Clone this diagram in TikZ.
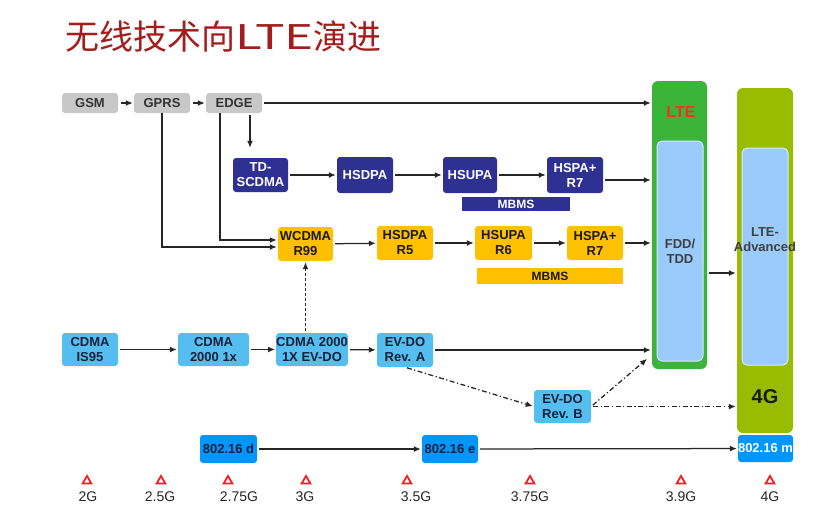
\documentclass[tikz,border=0pt]{standalone}
\usepackage{fontspec}
\setmainfont{Liberation Sans}
\newfontfamily\cjkfont{Noto Sans CJK SC}
\usetikzlibrary{positioning, arrows.meta, shapes.geometric}

\definecolor{titlered}{HTML}{A51C1C}
\definecolor{gsmgray}{HTML}{C8C8C8}
\definecolor{tdblue}{HTML}{2E3192}
\definecolor{wcyellow}{HTML}{FFC000}
\definecolor{cdblue}{HTML}{55BEF0}
\definecolor{cdtext}{HTML}{142038}
\definecolor{wmblue}{HTML}{0096FF}
\definecolor{ltegreen}{HTML}{3CB43C}
\definecolor{lteblue}{HTML}{9BCBFA}
\definecolor{olive}{HTML}{99BB00}
\definecolor{ltered}{HTML}{E8381C}
\definecolor{genred}{HTML}{F02020}

\tikzset{
  box/.style={rounded corners=3pt, inner sep=0pt, align=center,
    font=\bfseries\fontsize{13}{15}\selectfont},
  gsmbox/.style={box, fill=gsmgray, text=black!80, minimum width=56pt, minimum height=20pt},
  tdbox/.style={box, fill=tdblue, text=white, minimum width=56pt, minimum height=36pt},
  wcbox/.style={box, fill=wcyellow, text=black!90, minimum width=56pt, minimum height=34pt},
  cdbox/.style={box, fill=cdblue, text=cdtext, minimum width=56pt, minimum height=33pt},
  wmbox/.style={box, fill=wmblue, text=cdtext, minimum width=56pt, minimum height=28pt},
  bar/.style={inner sep=0pt, font=\bfseries\fontsize{12}{12}\selectfont},
  column/.style={inner sep=0pt, rounded corners=6pt},
  inner/.style={inner sep=0pt, rounded corners=5pt, fill=lteblue, draw=white!60!lteblue, line width=1pt},
  conn/.style={-{Latex[length=7pt,width=6pt]}, line width=1.25pt, black!85,
    shorten >=1pt, shorten <=2pt},
  dashconn/.style={conn, dash pattern=on 5pt off 2.5pt on 1.2pt off 2.5pt},
  gen/.style={regular polygon, regular polygon sides=3, draw=genred, fill=white,
    line width=1.8pt, minimum size=10pt, inner sep=0pt},
  genlabel/.style={inner sep=0pt, font=\fontsize{14}{14}\selectfont, text=black!85},
}

\begin{document}
\begin{tikzpicture}[x=1pt, y=-1pt]
  \fill[white] (0,0) rectangle (831,531);

  % ── title ──
  \node[anchor=west, inner sep=0pt, text=titlered,
    font=\cjkfont\fontsize{34}{34}\selectfont] (title) at (65,37)
    {无线技术向\scalebox{1.45}[1]{LTE}演进};

  % ── LTE / LTE-Advanced columns ──
  \node[column, fill=ltegreen, minimum width=55pt, minimum height=288pt] (lte) at (679.5,225) {};
  \node[inner, minimum width=46pt, minimum height=220pt, align=center, text=black!75,
    font=\bfseries\fontsize{13}{15}\selectfont] (fdd) at (680,251) {FDD/\\TDD};
  \node[inner sep=0pt, text=ltered, font=\bfseries\fontsize{16}{16}\selectfont] (ltetext) at (681,112) {LTE};

  \node[column, fill=olive, minimum width=56pt, minimum height=345pt] (ltea) at (765,260.5) {};
  \node[inner, minimum width=46pt, minimum height=217pt] (adv) at (765,256.5) {};
  \node[inner sep=0pt, align=center, text=black!75,
    font=\bfseries\fontsize{13}{15}\selectfont] (advtext) at (765,240) {LTE-\\Advanced};
  \node[inner sep=0pt, text=black!90, font=\bfseries\fontsize{20}{20}\selectfont] (fourg) at (765,397) {4G};

  % ── GSM branch ──
  \node[gsmbox] (gsm)  at (90,103)  {GSM};
  \node[gsmbox] (gprs) at (162,103) {GPRS};
  \node[gsmbox] (edge) at (234,103) {EDGE};

  % ── TD-SCDMA branch ──
  \node[tdbox, minimum width=55pt, minimum height=34pt] (tdscdma) at (260.5,175) {TD-\\SCDMA};
  \node[tdbox] (hsdpab) at (365,175) {HSDPA};
  \node[tdbox, minimum width=54pt] (hsupab) at (470,175) {HSUPA};
  \node[tdbox] (hspab)  at (575,175) {HSPA+\\R7};
  \node[bar, fill=tdblue, text=white, minimum width=108pt, minimum height=14pt] (mbmsb) at (516,204) {MBMS};

  % ── WCDMA branch ──
  \node[wcbox, minimum width=55pt] (wcdma) at (305.5,244) {WCDMA\\R99};
  \node[wcbox] (hsdpay) at (405,243) {HSDPA\\R5};
  \node[wcbox, minimum width=57pt] (hsupay) at (503.5,243) {HSUPA\\R6};
  \node[wcbox] (hspay)  at (595,243) {HSPA+\\R7};
  \node[bar, fill=wcyellow, text=black!90, minimum width=146pt, minimum height=16pt] (mbmsy) at (550,276) {MBMS};

  % ── CDMA branch ──
  \node[cdbox] (is95)   at (90,349.5)    {CDMA\\IS95};
  \node[cdbox, minimum width=71pt] (onex)   at (213.5,349.5) {CDMA\\2000 1x};
  \node[cdbox, minimum width=70pt] (evdo1x) at (312,349.5)   {CDMA 2000\\1X EV-DO};
  \node[cdbox, minimum height=34pt] (reva) at (405,350)     {EV-DO\\Rev. A};
  \node[cdbox, minimum width=57pt] (revb)   at (562.5,406.5) {EV-DO\\Rev. B};

  % ── 802.16 ──
  \node[wmbox, minimum width=57pt] (wmd) at (228.5,449) {802.16 d};
  \node[wmbox] (wme) at (450,449) {802.16 e};
  \node[wmbox, text=white, minimum width=55pt, minimum height=27pt] (wmm) at (765.5,448.5) {802.16 m};

  % ── connectors ──
  \draw[conn, shorten <=3pt] (gsm) -- (gprs);
  \draw[conn, shorten <=3pt] (gprs) -- (edge);
  \draw[conn] (edge.east) -- (edge.east -| lte.west);
  \draw[conn] ([xshift=16pt]edge.south) -- ([xshift=-10.5pt, yshift=9pt]tdscdma.north);

  \draw[conn] (tdscdma) -- (hsdpab);
  \draw[conn] (hsdpab) -- (hsupab);
  \draw[conn] (hsupab) -- (hspab);
  \draw[conn] ([yshift=-5pt]hspab.east) -- ([yshift=-5pt]hspab.east -| lte.west);

  \draw[conn, shorten <=0pt] (gprs.south) |- ([yshift=-3pt]wcdma.west);
  \draw[conn, shorten <=0pt] ([xshift=-14pt]edge.south) |- ([yshift=4pt]wcdma.west);
  \draw[conn] (wcdma) -- (hsdpay);
  \draw[conn] (hsdpay) -- (hsupay);
  \draw[conn] (hsupay) -- (hspay);
  \draw[conn] (hspay.east) -- (hspay.east -| lte.west);

  \draw[conn, dash pattern=on 3pt off 2pt] (wcdma.south |- evdo1x.north) -- (wcdma.south);
  \draw[conn] (is95) -- (onex);
  \draw[conn] (onex) -- (evdo1x);
  \draw[conn] (evdo1x) -- (reva);
  \draw[conn] (reva.east) -- (reva.east -| lte.west);
  \draw[dashconn] (reva.south) -- (revb.west);
  \draw[dashconn] (revb.east) -- ([xshift=-4pt, yshift=11pt]lte.south west);
  \draw[dashconn] (revb.east) -- (revb.east -| ltea.west);

  \draw[conn] (wmd) -- (wme);
  \draw[conn] (wme) -- (wmm);
  \draw[conn] ([yshift=-48pt]lte.east) -- ([yshift=-48pt]lte.east -| ltea.west);

  % ── generations ──
  \foreach \tx/\lx/\g [count=\i] in {87/88/2G, 161/160/2.5G, 228/239/2.75G, 306/305/3G,
      407/416/3.5G, 530/530/3.75G, 681/681/3.9G, 770/770/4G} {
    \node[gen] (tri\i) at (\tx,481) {};
    \node[genlabel] (gen\i) at (\lx,497) {\g};
  }
\end{tikzpicture}
\end{document}
